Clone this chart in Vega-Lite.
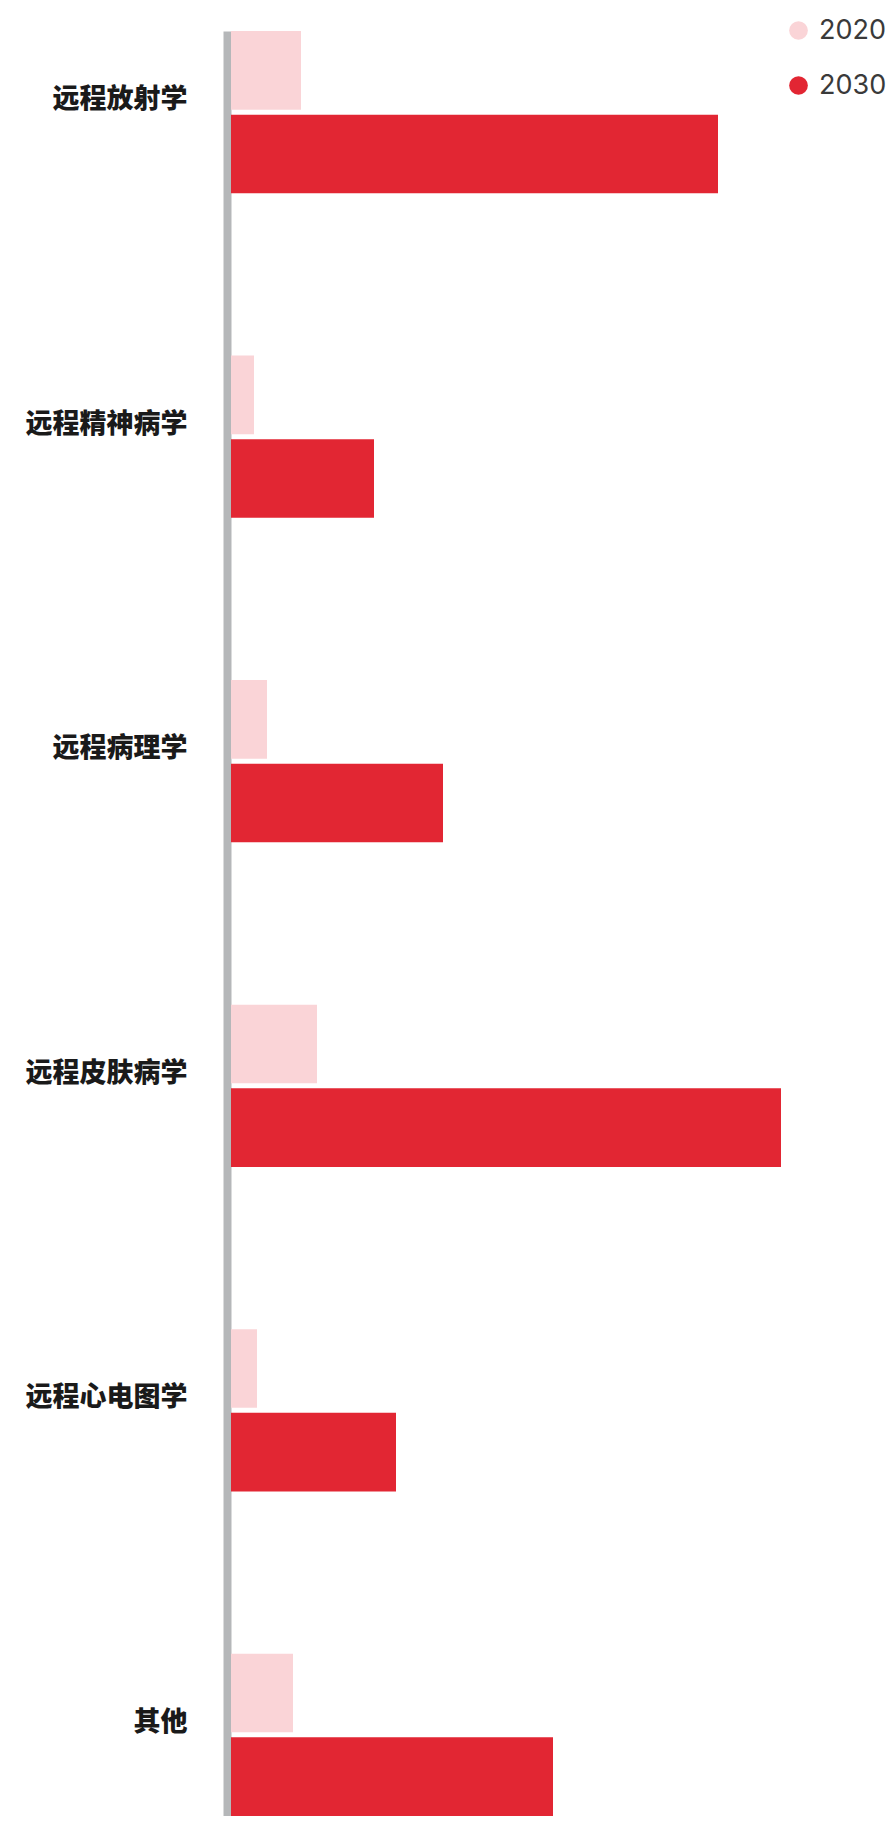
{
  "$schema": "https://vega.github.io/schema/vega-lite/v6.json",
  "width": 660,
  "height": 1785,
  "autosize": {"type": "none"},
  "padding": {"left": 231, "top": 31, "right": 0, "bottom": 0},
  "background": "#ffffff",
  "config": {"view": {"stroke": null}},
  "data": {
    "values": [
      {"category": "远程放射学", "year": "2020", "value": 70},
      {"category": "远程放射学", "year": "2030", "value": 487},
      {"category": "远程精神病学", "year": "2020", "value": 23},
      {"category": "远程精神病学", "year": "2030", "value": 143},
      {"category": "远程病理学", "year": "2020", "value": 36},
      {"category": "远程病理学", "year": "2030", "value": 212},
      {"category": "远程皮肤病学", "year": "2020", "value": 86},
      {"category": "远程皮肤病学", "year": "2030", "value": 550},
      {"category": "远程心电图学", "year": "2020", "value": 26},
      {"category": "远程心电图学", "year": "2030", "value": 165},
      {"category": "其他", "year": "2020", "value": 62},
      {"category": "其他", "year": "2030", "value": 322}
    ]
  },
  "mark": {"type": "bar"},
  "encoding": {
    "y": {
      "field": "category",
      "type": "nominal",
      "sort": ["远程放射学", "远程精神病学", "远程病理学", "远程皮肤病学", "远程心电图学", "其他"],
      "scale": {"paddingInner": 0.5, "paddingOuter": 0},
      "axis": {
        "title": null,
        "ticks": false,
        "tickSize": 0,
        "offset": 4,
        "domainWidth": 8,
        "domainColor": "#b5b7b9",
        "labelPadding": 40,
        "labelOffset": -12,
        "labelFont": "Noto Sans CJK SC",
        "labelFontSize": 27,
        "labelFontWeight": 900,
        "labelColor": "#1a1a1a"
      }
    },
    "yOffset": {
      "field": "year",
      "type": "nominal",
      "scale": {"paddingInner": 0.06, "paddingOuter": 0}
    },
    "x": {
      "field": "value",
      "type": "quantitative",
      "scale": {"domain": [0, 660], "nice": false},
      "axis": null
    },
    "color": {
      "field": "year",
      "type": "nominal",
      "scale": {"domain": ["2020", "2030"], "range": ["#fad4d7", "#e22633"]},
      "legend": {
        "title": null,
        "orient": "none",
        "legendX": 554,
        "legendY": -14,
        "padding": 0,
        "symbolType": "circle",
        "symbolSize": 350,
        "symbolStrokeWidth": 0,
        "labelFont": "Inter",
        "labelFontSize": 27,
        "labelColor": "#3a3a3a",
        "labelOffset": 7,
        "rowPadding": 27
      }
    }
  }
}
